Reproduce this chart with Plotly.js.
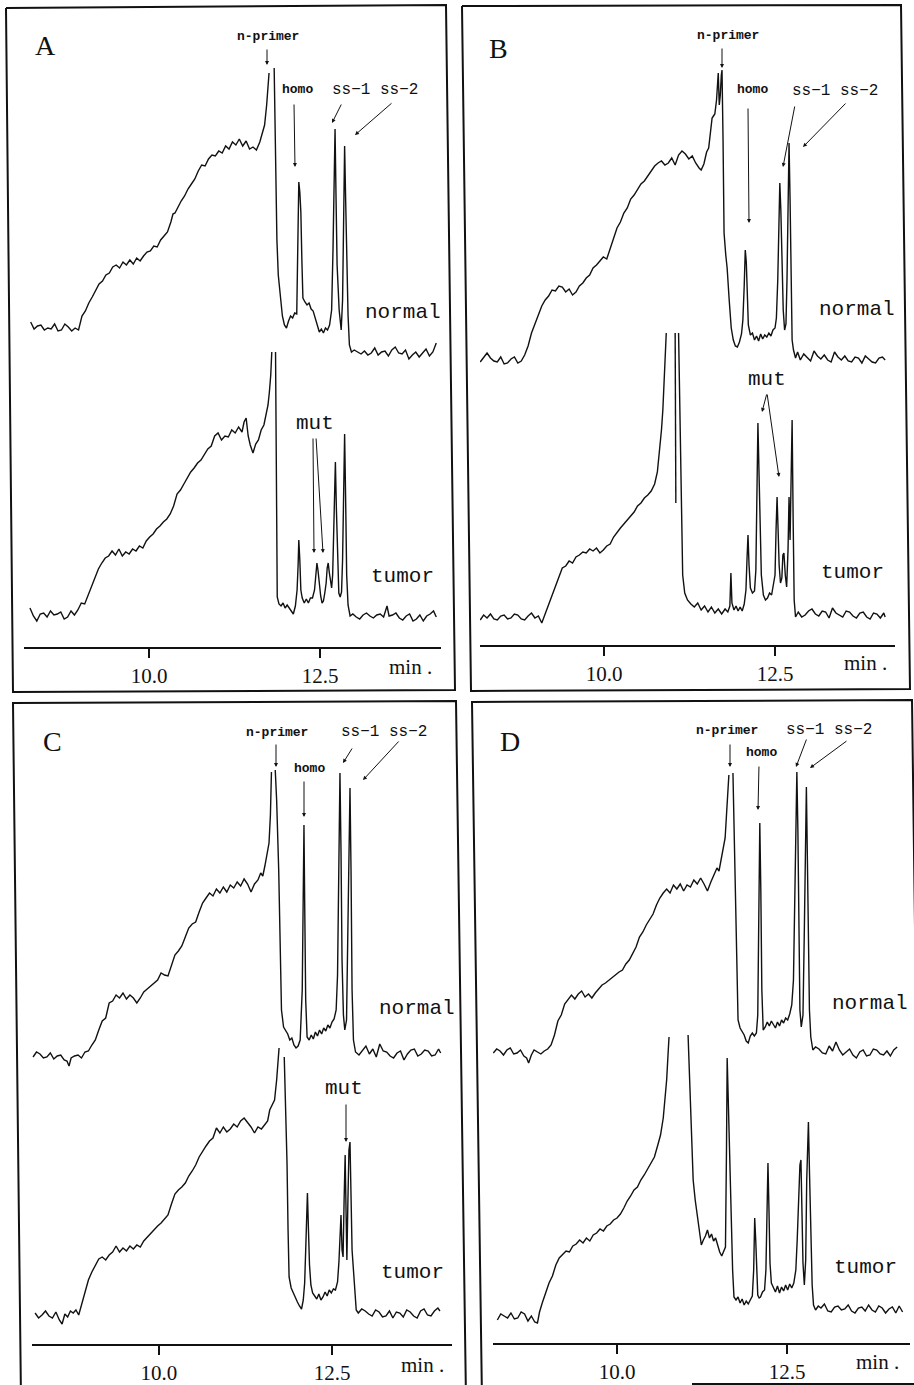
<!DOCTYPE html>
<html><head><meta charset="utf-8">
<script src="https://cdn.plot.ly/plotly-3.0.1.min.js"></script>
<style>html,body{margin:0;padding:0;background:#fff;}#chart{width:914px;height:1385px;}</style>
</head><body><div id="chart"></div>
<script>
// ---- data: [retention time (min), detector signal (arb. units, trace baseline = 0)] ----
const normalA = [[8.27,3],[8.32,-4],[8.37,-1],[8.42,0],[8.47,-5],[8.52,-3],[8.57,-4],[8.62,1],[8.67,-6],[8.72,-5],[8.77,1],[8.82,-2],[8.87,-6],[8.92,-3],[8.97,-5],[9.02,9],[9.07,14],[9.12,22],[9.17,28],[9.22,35],[9.27,41],[9.32,44],[9.37,50],[9.42,52],[9.47,58],[9.52,60],[9.57,57],[9.62,63],[9.67,60],[9.72,65],[9.77,61],[9.82,67],[9.87,64],[9.92,69],[9.97,73],[10.02,74],[10.07,79],[10.12,78],[10.17,85],[10.22,89],[10.27,93],[10.32,103],[10.35,111],[10.38,112],[10.42,118],[10.47,124],[10.52,129],[10.57,136],[10.62,141],[10.67,146],[10.72,154],[10.77,160],[10.82,159],[10.87,166],[10.92,170],[10.97,169],[11.02,174],[11.07,172],[11.12,179],[11.17,176],[11.22,183],[11.27,180],[11.32,186],[11.37,179],[11.42,184],[11.47,176],[11.52,178],[11.57,175],[11.62,183],[11.66,192],[11.69,200],[11.72,220],[11.74,240],[11.755,252],[11.79,null],[11.83,257],[11.85,175],[11.87,85],[11.89,50],[11.92,25],[11.95,9],[11.98,0],[12.01,-3],[12.04,4],[12.07,9],[12.10,7],[12.13,12],[12.16,11],[12.175,75],[12.19,143],[12.205,133],[12.22,113],[12.235,65],[12.25,27],[12.28,23],[12.31,20],[12.34,22],[12.37,16],[12.40,14],[12.43,7],[12.46,-2],[12.49,-7],[12.52,-4],[12.55,-8],[12.58,-3],[12.61,-5],[12.64,0],[12.67,15],[12.69,75],[12.705,155],[12.72,196],[12.735,125],[12.75,60],[12.78,15],[12.81,-5],[12.83,25],[12.845,105],[12.86,179],[12.875,125],[12.89,58],[12.91,10],[12.93,-20],[12.96,-27],[13.00,-25],[13.05,-27],[13.10,-29],[13.15,-26],[13.20,-30],[13.25,-28],[13.30,-23],[13.35,-30],[13.40,-27],[13.45,-26],[13.50,-31],[13.55,-25],[13.60,-22],[13.65,-28],[13.70,-29],[13.75,-25],[13.80,-34],[13.85,-30],[13.90,-27],[13.95,-32],[14.00,-28],[14.05,-24],[14.10,-31],[14.15,-27],[14.20,-18]];
const tumorA = [[8.26,4],[8.31,-4],[8.36,-9],[8.41,-2],[8.46,-1],[8.51,-5],[8.56,1],[8.61,-3],[8.66,-2],[8.71,0],[8.76,-7],[8.81,-5],[8.86,1],[8.91,-3],[8.96,2],[9.01,9],[9.06,8],[9.11,17],[9.16,24],[9.21,34],[9.26,43],[9.31,49],[9.36,54],[9.41,56],[9.46,61],[9.51,57],[9.56,63],[9.61,56],[9.66,60],[9.71,58],[9.76,63],[9.81,61],[9.86,66],[9.91,64],[9.96,71],[10.01,75],[10.06,78],[10.11,83],[10.16,86],[10.21,90],[10.26,93],[10.31,98],[10.36,106],[10.41,118],[10.46,122],[10.51,128],[10.56,134],[10.61,140],[10.66,144],[10.71,149],[10.76,152],[10.81,158],[10.86,163],[10.91,166],[10.96,176],[11.01,179],[11.06,172],[11.11,176],[11.16,175],[11.21,182],[11.26,179],[11.31,185],[11.36,180],[11.39,190],[11.42,194],[11.45,176],[11.48,167],[11.52,159],[11.56,168],[11.60,172],[11.64,182],[11.68,187],[11.71,197],[11.74,207],[11.76,220],[11.78,237],[11.795,260],[11.82,null],[11.85,260],[11.865,112],[11.875,15],[11.90,8],[11.93,6],[11.96,9],[11.99,4],[12.02,7],[12.05,4],[12.08,0],[12.11,-2],[12.14,6],[12.165,22],[12.18,47],[12.19,72],[12.205,52],[12.22,22],[12.24,14],[12.27,9],[12.30,13],[12.33,9],[12.36,14],[12.39,14],[12.42,22],[12.44,40],[12.455,49],[12.47,42],[12.49,24],[12.51,16],[12.53,9],[12.55,11],[12.57,19],[12.59,29],[12.605,44],[12.62,49],[12.635,40],[12.65,32],[12.67,24],[12.685,37],[12.70,92],[12.715,137],[12.725,150],[12.74,102],[12.755,52],[12.775,19],[12.795,15],[12.815,20],[12.83,52],[12.845,122],[12.86,178],[12.875,112],[12.89,37],[12.91,7],[12.94,-4],[12.98,-2],[13.03,-5],[13.08,-7],[13.13,-3],[13.18,-1],[13.23,-4],[13.28,-6],[13.33,-3],[13.38,-2],[13.43,-5],[13.48,6],[13.51,-4],[13.56,-3],[13.61,-1],[13.66,-6],[13.71,-8],[13.76,-4],[13.81,-2],[13.86,-9],[13.91,-7],[13.96,-3],[14.01,-9],[14.06,-4],[14.11,-2],[14.16,1],[14.20,-5]];
const normalB = [[8.19,-2],[8.24,3],[8.29,7],[8.34,2],[8.39,-1],[8.44,-2],[8.49,3],[8.54,-4],[8.59,-3],[8.64,1],[8.69,3],[8.74,-3],[8.79,-1],[8.84,5],[8.89,14],[8.94,27],[8.99,36],[9.04,43],[9.09,54],[9.14,60],[9.19,64],[9.24,70],[9.29,69],[9.34,74],[9.39,73],[9.44,68],[9.49,71],[9.54,65],[9.59,68],[9.64,74],[9.69,77],[9.74,82],[9.79,85],[9.84,92],[9.89,95],[9.94,99],[9.99,103],[10.04,101],[10.09,112],[10.14,122],[10.19,132],[10.24,138],[10.29,147],[10.34,152],[10.39,161],[10.44,165],[10.49,170],[10.54,176],[10.59,179],[10.64,184],[10.69,190],[10.74,194],[10.79,197],[10.84,199],[10.89,195],[10.94,197],[10.99,202],[11.04,195],[11.09,205],[11.14,209],[11.19,206],[11.24,201],[11.29,204],[11.34,197],[11.39,192],[11.42,190],[11.46,196],[11.50,208],[11.53,212],[11.56,230],[11.58,242],[11.60,244],[11.62,246],[11.645,260],[11.66,282],[11.67,287],[11.685,255],[11.70,265],[11.715,285],[11.725,290],[11.74,220],[11.755,127],[11.78,105],[11.80,92],[11.83,60],[11.86,32],[11.89,20],[11.92,14],[11.95,13],[11.98,18],[12.01,26],[12.03,40],[12.05,75],[12.065,110],[12.08,98],[12.095,60],[12.11,35],[12.14,25],[12.17,27],[12.20,20],[12.23,24],[12.26,19],[12.29,26],[12.32,21],[12.35,25],[12.38,23],[12.41,27],[12.44,24],[12.47,30],[12.50,32],[12.52,42],[12.54,80],[12.555,140],[12.57,177],[12.585,150],[12.60,93],[12.62,50],[12.64,30],[12.66,36],[12.675,80],[12.69,160],[12.705,217],[12.72,160],[12.735,80],[12.75,20],[12.77,10],[12.80,2],[12.83,8],[12.87,0],[12.92,6],[12.97,2],[13.02,-1],[13.07,9],[13.12,4],[13.17,1],[13.22,5],[13.27,0],[13.32,-2],[13.37,8],[13.42,3],[13.47,0],[13.52,4],[13.57,-1],[13.62,-2],[13.67,3],[13.72,2],[13.77,-3],[13.82,4],[13.87,1],[13.92,-2],[13.97,-3],[14.02,2],[14.07,3],[14.11,0]];
const tumorB = [[8.19,-3],[8.24,2],[8.29,-1],[8.34,3],[8.39,-2],[8.44,-3],[8.49,1],[8.54,2],[8.59,-2],[8.64,-1],[8.69,3],[8.74,2],[8.79,-2],[8.84,-3],[8.89,1],[8.94,4],[8.99,-1],[9.04,1],[9.09,-6],[9.14,3],[9.19,13],[9.24,23],[9.29,32],[9.34,40],[9.39,49],[9.44,51],[9.49,56],[9.54,54],[9.59,60],[9.64,62],[9.69,65],[9.74,64],[9.79,68],[9.84,66],[9.89,69],[9.94,64],[9.99,67],[10.04,71],[10.09,73],[10.14,80],[10.19,85],[10.24,89],[10.29,93],[10.34,97],[10.39,100],[10.44,105],[10.49,111],[10.54,114],[10.59,119],[10.64,122],[10.69,126],[10.74,133],[10.78,145],[10.81,165],[10.84,187],[10.86,207],[10.88,237],[10.895,262],[10.91,284],[10.97,null],[11.04,284],[11.05,114],[11.07,null],[11.09,284],[11.11,197],[11.13,97],[11.15,42],[11.18,24],[11.22,17],[11.27,13],[11.32,10],[11.37,14],[11.42,7],[11.47,11],[11.52,5],[11.57,10],[11.62,4],[11.67,8],[11.72,3],[11.77,8],[11.81,5],[11.84,11],[11.855,44],[11.87,14],[11.90,7],[11.93,11],[11.96,6],[11.99,10],[12.02,6],[12.05,13],[12.075,27],[12.09,57],[12.105,82],[12.12,52],[12.14,29],[12.17,24],[12.20,26],[12.22,47],[12.235,137],[12.25,194],[12.265,147],[12.28,87],[12.30,42],[12.33,22],[12.36,17],[12.39,19],[12.42,24],[12.45,22],[12.48,32],[12.50,42],[12.515,87],[12.53,120],[12.545,87],[12.56,52],[12.58,34],[12.60,39],[12.615,62],[12.63,64],[12.65,42],[12.67,30],[12.69,67],[12.705,120],[12.72,77],[12.735,147],[12.75,197],[12.765,97],[12.78,17],[12.80,0],[12.84,5],[12.89,0],[12.94,2],[12.99,6],[13.04,8],[13.09,3],[13.14,1],[13.19,6],[13.24,5],[13.29,-1],[13.34,9],[13.39,4],[13.44,2],[13.49,0],[13.54,6],[13.59,5],[13.64,1],[13.69,-1],[13.74,4],[13.79,5],[13.84,0],[13.89,-2],[13.94,4],[13.99,3],[14.04,-1],[14.09,4],[14.11,0]];
const normalC = [[8.18,-2],[8.23,3],[8.28,1],[8.33,-3],[8.38,-2],[8.43,2],[8.48,-4],[8.53,-1],[8.58,0],[8.63,-5],[8.67,-6],[8.70,-11],[8.73,-3],[8.78,-1],[8.83,0],[8.88,-3],[8.93,3],[8.98,4],[9.03,10],[9.08,15],[9.13,25],[9.18,34],[9.23,37],[9.28,52],[9.33,54],[9.38,60],[9.43,57],[9.48,62],[9.53,56],[9.58,60],[9.63,57],[9.68,52],[9.73,57],[9.78,63],[9.83,66],[9.88,69],[9.93,72],[9.98,75],[10.03,82],[10.08,80],[10.13,79],[10.18,90],[10.23,100],[10.28,104],[10.33,109],[10.38,118],[10.43,127],[10.48,131],[10.53,133],[10.58,143],[10.63,152],[10.68,157],[10.73,162],[10.78,159],[10.83,166],[10.88,162],[10.93,168],[10.98,163],[11.03,170],[11.08,167],[11.13,173],[11.18,169],[11.23,176],[11.28,171],[11.33,163],[11.38,171],[11.43,175],[11.47,182],[11.50,179],[11.53,189],[11.56,200],[11.59,212],[11.61,240],[11.62,275],[11.625,283],[11.65,null],[11.68,285],[11.70,255],[11.73,185],[11.75,105],[11.77,45],[11.80,28],[11.83,25],[11.86,21],[11.89,15],[11.92,17],[11.95,10],[11.98,7],[12.01,9],[12.04,15],[12.07,65],[12.085,175],[12.095,230],[12.105,155],[12.12,55],[12.14,18],[12.17,15],[12.20,20],[12.23,16],[12.26,23],[12.29,19],[12.32,25],[12.35,21],[12.38,27],[12.41,24],[12.44,30],[12.47,27],[12.50,33],[12.53,36],[12.56,45],[12.58,80],[12.60,195],[12.615,282],[12.63,205],[12.645,95],[12.665,40],[12.685,25],[12.71,35],[12.73,115],[12.745,215],[12.76,267],[12.775,185],[12.79,65],[12.81,15],[12.84,3],[12.89,0],[12.94,5],[12.99,9],[13.04,1],[13.09,6],[13.14,-2],[13.19,11],[13.24,4],[13.29,3],[13.34,-1],[13.39,-3],[13.44,2],[13.49,4],[13.54,-5],[13.59,1],[13.64,5],[13.69,6],[13.74,-1],[13.79,1],[13.84,5],[13.89,4],[13.94,-1],[13.99,0],[14.04,6],[14.07,2]];
const tumorC = [[8.21,0],[8.26,-5],[8.31,-2],[8.36,2],[8.41,-3],[8.46,-5],[8.51,1],[8.56,-7],[8.60,-11],[8.64,-1],[8.68,-4],[8.72,2],[8.76,0],[8.80,3],[8.84,-2],[8.88,8],[8.93,21],[8.98,33],[9.03,41],[9.08,48],[9.13,54],[9.18,56],[9.23,53],[9.28,58],[9.33,61],[9.38,67],[9.43,61],[9.48,65],[9.53,62],[9.58,67],[9.63,64],[9.68,68],[9.73,66],[9.78,72],[9.83,76],[9.88,80],[9.93,83],[9.98,87],[10.03,90],[10.08,94],[10.13,98],[10.18,109],[10.23,119],[10.28,123],[10.33,126],[10.38,130],[10.43,137],[10.48,142],[10.53,148],[10.58,156],[10.63,162],[10.68,167],[10.73,172],[10.78,175],[10.83,185],[10.88,180],[10.93,186],[10.98,181],[11.03,184],[11.08,189],[11.13,186],[11.18,192],[11.23,195],[11.28,191],[11.33,186],[11.38,180],[11.43,186],[11.48,184],[11.53,189],[11.57,192],[11.60,203],[11.64,209],[11.67,213],[11.70,233],[11.72,253],[11.735,265],[11.77,null],[11.81,256],[11.83,213],[11.85,150],[11.865,83],[11.88,36],[11.91,25],[11.94,20],[11.97,15],[12.00,11],[12.03,7],[12.06,4],[12.085,13],[12.105,30],[12.12,63],[12.135,113],[12.145,120],[12.16,83],[12.175,48],[12.195,28],[12.22,20],[12.25,17],[12.28,14],[12.31,19],[12.34,13],[12.37,16],[12.40,21],[12.43,17],[12.46,23],[12.49,20],[12.52,24],[12.55,23],[12.58,31],[12.60,51],[12.615,73],[12.63,98],[12.645,63],[12.66,56],[12.675,113],[12.69,158],[12.705,93],[12.715,53],[12.73,113],[12.745,163],[12.76,171],[12.775,123],[12.79,63],[12.81,43],[12.83,18],[12.85,3],[12.88,0],[12.93,4],[12.98,2],[13.03,-1],[13.08,-3],[13.13,3],[13.18,1],[13.23,-4],[13.28,-3],[13.33,2],[13.38,-5],[13.43,1],[13.48,0],[13.53,-4],[13.58,3],[13.63,1],[13.68,-3],[13.73,-5],[13.78,2],[13.83,4],[13.88,-2],[13.93,-3],[13.98,2],[14.03,5],[14.06,2]];
const normalD = [[8.18,0],[8.23,4],[8.28,2],[8.33,-2],[8.38,3],[8.43,5],[8.48,-1],[8.53,0],[8.58,3],[8.63,-3],[8.67,-5],[8.70,-10],[8.74,-2],[8.78,3],[8.83,1],[8.88,-1],[8.93,2],[8.98,4],[9.03,8],[9.08,18],[9.13,32],[9.18,38],[9.23,49],[9.28,53],[9.33,58],[9.38,54],[9.43,59],[9.48,62],[9.53,56],[9.58,59],[9.63,55],[9.68,60],[9.73,64],[9.78,68],[9.83,70],[9.88,73],[9.93,75],[9.98,78],[10.03,81],[10.08,83],[10.13,89],[10.18,93],[10.23,100],[10.28,106],[10.33,116],[10.38,121],[10.43,128],[10.48,133],[10.53,139],[10.58,148],[10.63,155],[10.68,160],[10.73,164],[10.78,160],[10.83,168],[10.88,164],[10.93,169],[10.98,162],[11.03,168],[11.08,166],[11.13,173],[11.18,169],[11.23,175],[11.28,169],[11.33,162],[11.38,171],[11.43,178],[11.47,185],[11.50,182],[11.53,193],[11.56,203],[11.59,215],[11.61,238],[11.63,263],[11.645,278],[11.675,null],[11.705,280],[11.72,233],[11.74,173],[11.76,93],[11.78,33],[11.81,25],[11.84,21],[11.87,18],[11.90,12],[11.93,10],[11.96,17],[11.99,20],[12.02,17],[12.05,20],[12.07,38],[12.085,133],[12.10,230],[12.115,163],[12.13,63],[12.15,23],[12.18,26],[12.21,31],[12.24,27],[12.27,32],[12.30,28],[12.33,25],[12.36,31],[12.39,27],[12.42,33],[12.45,30],[12.48,35],[12.51,33],[12.54,39],[12.57,48],[12.595,73],[12.615,153],[12.635,253],[12.645,281],[12.66,223],[12.675,96],[12.69,43],[12.71,26],[12.735,38],[12.755,123],[12.77,213],[12.785,266],[12.80,193],[12.815,96],[12.83,43],[12.85,16],[12.88,3],[12.92,6],[12.97,4],[13.02,0],[13.07,-1],[13.12,7],[13.17,2],[13.22,11],[13.27,3],[13.32,-2],[13.37,1],[13.42,4],[13.47,-2],[13.52,-5],[13.57,1],[13.62,3],[13.67,-3],[13.72,-2],[13.77,4],[13.82,3],[13.87,-1],[13.92,-2],[13.97,2],[14.02,-3],[14.07,3],[14.12,6]];
const tumorD = [[8.24,-3],[8.29,3],[8.34,1],[8.39,-1],[8.44,4],[8.49,-2],[8.54,-1],[8.59,5],[8.64,3],[8.69,-4],[8.74,1],[8.79,-5],[8.83,-6],[8.86,5],[8.90,14],[8.95,24],[9.00,34],[9.05,41],[9.10,52],[9.15,59],[9.20,62],[9.25,66],[9.30,65],[9.35,71],[9.40,73],[9.45,77],[9.50,74],[9.55,79],[9.60,76],[9.65,82],[9.70,84],[9.75,88],[9.80,86],[9.85,91],[9.90,93],[9.95,97],[10.00,99],[10.05,103],[10.10,109],[10.15,116],[10.20,121],[10.25,127],[10.30,130],[10.35,137],[10.40,142],[10.45,148],[10.50,155],[10.55,160],[10.60,172],[10.64,182],[10.68,199],[10.71,222],[10.73,237],[10.75,262],[10.765,280],[10.9,null],[11.045,282],[11.07,227],[11.09,187],[11.12,137],[11.15,117],[11.18,102],[11.21,87],[11.24,72],[11.27,77],[11.30,81],[11.33,87],[11.36,79],[11.39,83],[11.42,76],[11.45,79],[11.48,71],[11.51,65],[11.54,61],[11.57,67],[11.595,70],[11.61,167],[11.62,259],[11.635,220],[11.655,157],[11.675,110],[11.70,47],[11.72,20],[11.75,17],[11.78,20],[11.81,14],[11.84,18],[11.87,12],[11.90,16],[11.93,13],[11.96,17],[11.99,21],[12.01,47],[12.025,99],[12.04,77],[12.055,34],[12.07,22],[12.09,19],[12.11,20],[12.14,25],[12.17,27],[12.19,47],[12.205,117],[12.22,154],[12.235,107],[12.25,54],[12.27,34],[12.30,30],[12.33,25],[12.36,31],[12.39,24],[12.42,30],[12.45,26],[12.48,32],[12.51,27],[12.54,33],[12.57,29],[12.60,34],[12.63,47],[12.65,77],[12.67,117],[12.69,152],[12.705,157],[12.72,97],[12.735,54],[12.755,32],[12.775,57],[12.79,137],[12.805,192],[12.815,195],[12.83,147],[12.85,77],[12.87,32],[12.89,12],[12.92,7],[12.96,11],[13.00,9],[13.05,13],[13.10,6],[13.15,5],[13.20,10],[13.25,11],[13.30,7],[13.35,8],[13.40,12],[13.45,6],[13.50,4],[13.55,9],[13.60,10],[13.65,6],[13.70,12],[13.75,7],[13.80,5],[13.85,11],[13.90,9],[13.95,4],[14.00,8],[14.05,10],[14.10,4],[14.15,11],[14.20,5]];

const tickVals = [10, 12.5];
const tickText = ['10.0', '12.5'];
const panelLetters = ['A', 'B', 'C', 'D'];
const peakLabels = ['n-primer', 'homo', 'ss\u22121 ss\u22122'];
const sampleLabels = ['normal', 'tumor'];
const mutLabel = 'mut';
const axisUnit = 'min .';

// ---- layout (pixel geometry of the page) ----
const W = 914, H = 1385;
const INK = '#111';
const panels = [
  {normal: normalA, tumor: tumorA, x0: 24,  x1: 441, t0: 8.1725, t1: 14.269, yb: 647,  yt: 20,  nBase: 325,  tBase: 612,
   letter: [45, 45], lab: {np: [268, 36], homo: [297, 89], ss: [375, 90], normal: [403, 312], tumor: [402, 577], mut: [315, 423], min: [410, 667]},
   arrows: [[267,48,267,65],[294,103,295,167],[342,103,332,123],[393,102,355,135],[313,437,314,553],[316,437,323,553]]},
  {normal: normalB, tumor: tumorB, x0: 480, x1: 895, t0: 8.187, t1: 14.254, yb: 645,  yt: 20,  nBase: 360,  tBase: 617,
   letter: [498, 48], lab: {np: [728, 35], homo: [752, 89], ss: [835, 91], normal: [857, 310], tumor: [852, 572], mut: [767, 379], min: [865, 663]},
   arrows: [[722,47,722,68],[748,107,749,223],[795,105,783,167],[847,102,803,147],[767,393,762,412],[767,393,779,477]]},
  {normal: normalC, tumor: tumorC, x0: 32,  x1: 452, t0: 8.165, t1: 14.234, yb: 1344, yt: 715, nBase: 1055, tBase: 1313,
   letter: [52, 742], lab: {np: [277, 732], homo: [309, 768], ss: [384, 732], normal: [417, 1008], tumor: [412, 1272], mut: [344, 1088], min: [422, 1365]},
   arrows: [[276,743,276,767],[304,780,304,817],[353,747,343,763],[400,740,363,780],[346,1103,346,1142]]},
  {normal: normalD, tumor: tumorD, x0: 493, x1: 910, t0: 8.176, t1: 14.309, yb: 1343, yt: 715, nBase: 1053, tBase: 1317,
   letter: [510, 742], lab: {np: [727, 731], homo: [761, 752], ss: [829, 730], normal: [870, 1003], tumor: [865, 1267], mut: null, min: [877, 1362]},
   arrows: [[730,743,730,767],[759,765,758,810],[807,738,796,767],[848,740,810,768]]}
];
const frames = [
  [[6,8],[446,5],[455,690],[13,692],[6,8]],
  [[462,6],[901,5],[910,689],[471,691],[462,6]],
  [[21,1400],[13,703],[456,701],[466,1400]],
  [[482,1400],[472,702],[912,700],[921,1384],[692,1384]]
];

const px = x => x / W, py = y => 1 - y / H;
function txt(pos, text, font) {
  return {x: px(pos[0]), y: py(pos[1]), xref: 'paper', yref: 'paper', text: text, showarrow: false,
          xanchor: 'center', yanchor: 'middle', font: font};
}
function arrow(a) {
  return {x: px(a[2]), y: py(a[3]), xref: 'paper', yref: 'paper', text: '', showarrow: true,
          ax: a[0] - a[2], ay: a[1] - a[3], arrowhead: 2, arrowsize: 0.8, arrowwidth: 1,
          arrowcolor: INK, standoff: 0, startstandoff: 0};
}
const serif = s => ({family: 'Liberation Serif, Times New Roman, serif', size: s, color: INK});
const mono = s => ({family: 'Liberation Mono, Courier New, monospace', size: s, color: INK});

const traces = [];
const layout = {width: W, height: H, margin: {l: 0, r: 0, t: 0, b: 0}, paper_bgcolor: '#fff',
                plot_bgcolor: 'rgba(0,0,0,0)', showlegend: false, shapes: [], annotations: []};

panels.forEach((p, i) => {
  const xs = i === 0 ? '' : String(i + 1);
  const ynS = (2 * i + 1) === 1 ? '' : String(2 * i + 1);
  const ytS = String(2 * i + 2);
  const dom = [py(p.yb), py(p.yt)];
  layout['xaxis' + xs] = {domain: [px(p.x0), px(p.x1)], range: [p.t0, p.t1], anchor: 'y' + ytS,
    showline: true, linecolor: INK, linewidth: 2, ticks: 'outside', ticklen: 9, tickwidth: 1.5, tickcolor: INK,
    tickmode: 'array', tickvals: tickVals, ticktext: tickText, tickfont: serif(21),
    showgrid: false, zeroline: false, fixedrange: true};
  layout['yaxis' + ytS] = {domain: dom, range: [p.tBase - p.yb, p.tBase - p.yt], anchor: 'x' + xs,
    visible: false, fixedrange: true};
  layout['yaxis' + ynS] = {domain: dom, range: [p.nBase - p.yb, p.nBase - p.yt], anchor: 'x' + xs,
    overlaying: 'y' + ytS, visible: false, fixedrange: true};
  [[p.normal, 'y' + ynS, sampleLabels[0]], [p.tumor, 'y' + ytS, sampleLabels[1]]].forEach(([d, ya, nm]) => {
    traces.push({x: d.map(r => r[0]), y: d.map(r => r[1]), xaxis: 'x' + xs, yaxis: ya, name: nm,
      type: 'scatter', mode: 'lines', connectgaps: false, line: {color: INK, width: 1.4}, hoverinfo: 'skip'});
  });
  layout.annotations.push(txt(p.letter, panelLetters[i], serif(28)));
  layout.annotations.push(txt(p.lab.np, '<b>' + peakLabels[0] + '</b>', mono(13)));
  layout.annotations.push(txt(p.lab.homo, '<b>' + peakLabels[1] + '</b>', mono(13)));
  layout.annotations.push(txt(p.lab.ss, peakLabels[2], mono(16)));
  layout.annotations.push(txt(p.lab.normal, sampleLabels[0], mono(21)));
  layout.annotations.push(txt(p.lab.tumor, sampleLabels[1], mono(21)));
  if (p.lab.mut) layout.annotations.push(txt(p.lab.mut, mutLabel, mono(21)));
  layout.annotations.push(txt(p.lab.min, axisUnit, serif(21)));
  p.arrows.forEach(a => layout.annotations.push(arrow(a)));
});

frames.forEach(f => {
  const path = f.map((pt, k) => (k ? 'L' : 'M') + px(pt[0]).toFixed(5) + ',' + py(pt[1]).toFixed(5)).join(' ');
  layout.shapes.push({type: 'path', xref: 'paper', yref: 'paper', path: path, line: {color: INK, width: 2}});
});

Plotly.newPlot('chart', traces, layout, {staticPlot: true, displayModeBar: false});
</script>
</body></html>
